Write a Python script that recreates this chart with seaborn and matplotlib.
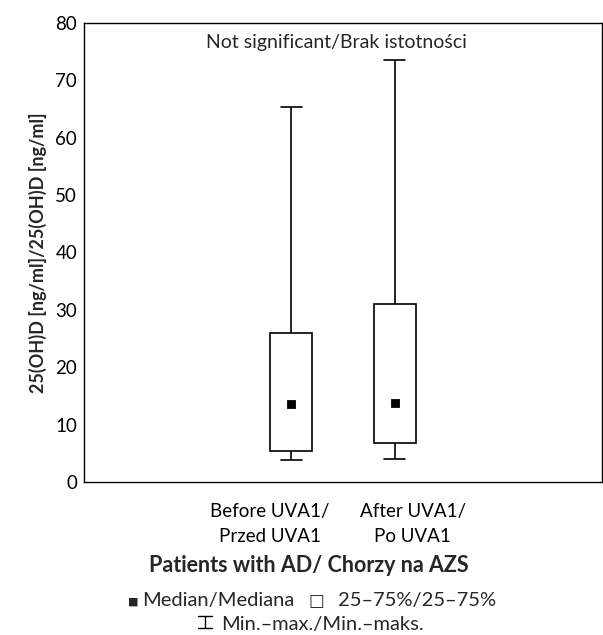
import pandas as pd
import numpy as np
import matplotlib.pyplot as plt
import matplotlib.transforms as mtransforms
from matplotlib.lines import Line2D
import seaborn as sns

# values (ng/ml)
groups = ['Before UVA1/\nPrzed UVA1', 'After UVA1/\nPo UVA1']
mins = [3.9, 4.0]
q1s = [5.4, 6.8]
medians = [13.6, 13.7]
q3s = [26.0, 31.1]
maxs = [65.4, 73.5]

# five points per group -> percentiles land exactly on the read values
rows = []
for g, a, b, c, d, e in zip(groups, mins, q1s, medians, q3s, maxs):
    for v in [a, b, c, d, e]:
        rows.append({'group': g, 'value': v})
df = pd.DataFrame(rows)

order = [' ', groups[0], groups[1], '  ']

sns.set_style('white')
plt.rcParams['font.family'] = ['Lato', 'DejaVu Sans']

fig = plt.figure(figsize=(6.03, 6.35), dpi=100)
ax = fig.add_axes([84 / 603, 1 - 482 / 635, 518 / 603, 459 / 635])

sns.boxplot(data=df, x='group', y='value', order=order, whis=(0, 100),
            width=0.4, color='white', linecolor='black', linewidth=1.2,
            medianprops={'visible': False}, ax=ax)
sns.pointplot(x=groups, y=medians, order=order, linestyle='none',
              marker='s', color='black', markersize=4.5, errorbar=None, ax=ax)

ax.set_xlim(-1, 4)
ax.set_ylim(0, 80)
ax.set_yticks(range(0, 81, 10))
ax.set_xticks(range(4))
ax.set_xticklabels(['', groups[0], groups[1], ''], fontsize=13.5, linespacing=1.55)
ax.tick_params(axis='both', direction='in', length=6, width=1, colors='black',
               labelsize=13.5)
ax.tick_params(axis='x', pad=15)
ax.tick_params(axis='y', pad=5)
for s in ax.spines.values():
    s.set_visible(True)
    s.set_color('black')
    s.set_linewidth(1)

# spread the two category labels like in the reference
shifts = [0, -0.21, 0.18, 0]
for lab, dx in zip(ax.get_xticklabels(), shifts):
    lab.set_transform(lab.get_transform() +
                      mtransforms.ScaledTranslation(dx, 0, fig.dpi_scale_trans))

ax.set_xlabel('')
ax.set_ylabel('25(OH)D [ng/ml]/25(OH)D [ng/ml]', fontsize=13,
              fontweight='bold', labelpad=6)

ax.text(0.487, 0.975, 'Not significant/Brak istotności', transform=ax.transAxes,
        ha='center', va='top', fontsize=14)

fig.text(309 / 603, 1 - 572 / 635, 'Patients with AD/ Chorzy na AZS',
         ha='center', va='baseline', fontsize=15.5, fontweight='bold')

# legend line 1
W, H = 603, 635
fig.text(128 / W, 1 - 605 / H, '■', ha='left', va='baseline', fontsize=8,
         family=['DejaVu Sans'])
fig.text(142 / W, 1 - 606 / H, 'Median/Mediana', ha='left', va='baseline',
         fontsize=14.5)
fig.text(309 / W, 1 - 606 / H, '□', ha='left', va='baseline', fontsize=12,
         family=['DejaVu Sans'])
fig.text(338 / W, 1 - 606 / H, '25–75%/25–75%', ha='left', va='baseline',
         fontsize=14.5)

# legend line 2: the I-beam symbol has no glyph in the installed fonts
x0, x1, xm = 198 / W, 212 / W, 205 / W
y0, y1 = 1 - 628 / H, 1 - 616 / H
for xs, ys in [([x0, x1], [y0, y0]), ([x0, x1], [y1, y1]), ([xm, xm], [y0, y1])]:
    fig.add_artist(Line2D(xs, ys, color='black', linewidth=1,
                          transform=fig.transFigure))
fig.text(221 / W, 1 - 630 / H, 'Min.–max./Min.–maks.', ha='left', va='baseline',
         fontsize=14.5)

fig.savefig('out.png', dpi=100)
